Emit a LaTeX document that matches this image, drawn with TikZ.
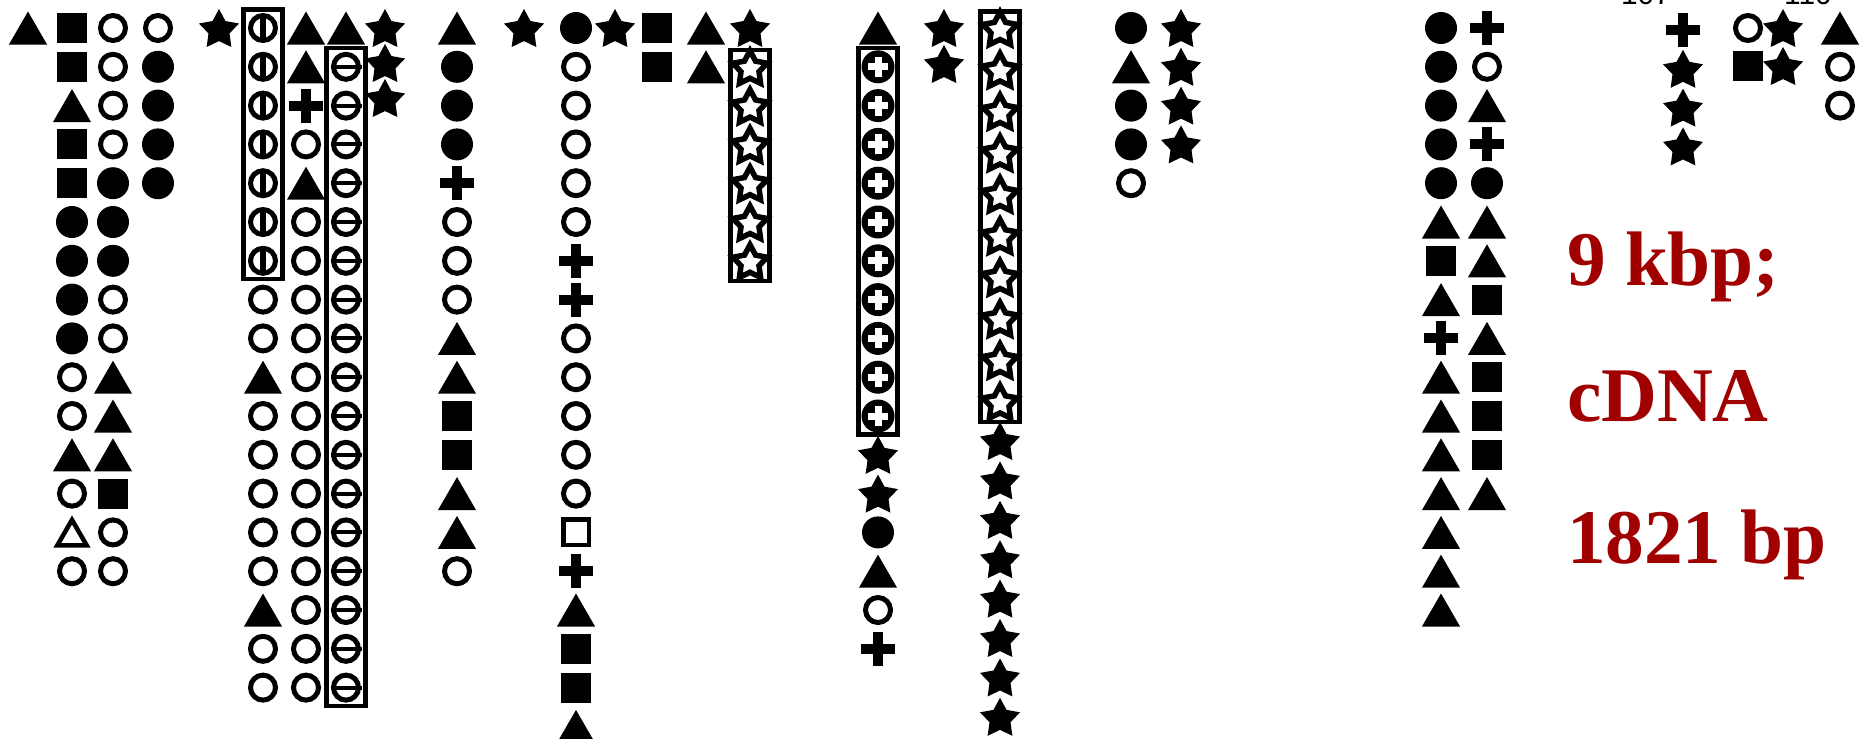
\documentclass[tikz,border=0pt]{standalone}
\usepackage{fontspec}
\setmainfont{Liberation Serif}
\setsansfont{Liberation Sans}
\usepackage{tikz}
\usetikzlibrary{fit}
\usetikzlibrary{shapes.geometric}
\usetikzlibrary{shapes.misc}

\definecolor{lenRed}{RGB}{160,0,0}
\def\rowstep{38.8}

\begin{document}
\begin{tikzpicture}[
  x=0.02cm, y=-0.02cm,
  every node/.style={inner sep=0pt, outer sep=0pt},
  % filled / open symbols
  cF/.style={circle, fill=black, minimum size=0.64cm},
  cO/.style={circle, draw=black, line width=0.1cm, minimum size=0.5cm},
  sF/.style={rectangle, fill=black, minimum size=0.6cm},
  sO/.style={rectangle, draw=black, line width=0.09cm, minimum size=0.51cm},
  tF/.style={regular polygon, regular polygon sides=3, fill=black, minimum size=0.88cm, yshift=-0.11cm},
  tO/.style={regular polygon, regular polygon sides=3, draw=black, line width=0.09cm, minimum size=0.68cm, yshift=-0.09cm},
  stF/.style={star, star points=5, star point ratio=1.9, fill=black, minimum size=0.84cm, yshift=-0.04cm},
  stO/.style={star, star points=5, star point ratio=1.9, draw=black, fill=white, line width=0.11cm, minimum size=0.72cm, yshift=-0.04cm},
  pl/.style={cross out, draw=black, line width=0.2cm, minimum size=0.48cm, rotate=45},
  cV/.style={cO, path picture={\draw[line width=0.12cm] (path picture bounding box.north) -- (path picture bounding box.south);}},
  cH/.style={cO},
  cP/.style={circle, fill=black, minimum size=0.66cm,
    path picture={\draw[white, line width=0.14cm] ([xshift=-0.2cm]path picture bounding box.center) -- ([xshift=0.2cm]path picture bounding box.center);
      \draw[white, line width=0.14cm] ([yshift=-0.2cm]path picture bounding box.center) -- ([yshift=0.2cm]path picture bounding box.center);}},
  redLab/.style={font=\bfseries\fontsize{44}{50}\selectfont, text=lenRed},
  topLab/.style={font=\sffamily\fontsize{17}{20}\selectfont},
]

\tikzset{
  boxRun/.style 2 args={
    draw=black, line width=0.085cm,
    rectangle,
    fit={(#1.center) (#2.center)},
    inner xsep=0.39cm, inner ysep=0.37cm
  }
}

\useasboundingbox (0,0) rectangle (1859,738);

% --- first group ---
\node[tF] (a-1) at (28,28) {};
\foreach \s [count=\r] in {sF,sF,tF,sF,sF,cF,cF,cF,cF,cO,cO,tF,cO,tO,cO}
  \node[\s] (b-\r) at (72,{28+\rowstep*(\r-1)}) {};
\foreach \s [count=\r] in {cO,cO,cO,cO,cF,cF,cF,cO,cO,tF,tF,tF,sF,cO,cO}
  \node[\s] (c-\r) at (113,{28+\rowstep*(\r-1)}) {};
\foreach \s [count=\r] in {cO,cF,cF,cF,cF}
  \node[\s] (d-\r) at (158,{28+\rowstep*(\r-1)}) {};

% --- second group ---
\node[stF] (st-1) at (219,28) {};
\foreach \s [count=\r] in {cV,cV,cV,cV,cV,cV,cV,cO,cO,tF,cO,cO,cO,cO,cO,tF,cO,cO}
  \node[\s] (e-\r) at (263,{28+\rowstep*(\r-1)}) {};
\foreach \s [count=\r] in {tF,tF,pl,cO,tF,cO,cO,cO,cO,cO,cO,cO,cO,cO,cO,cO,cO,cO}
  \node[\s] (f-\r) at (306,{28+\rowstep*(\r-1)}) {};
\foreach \s [count=\r] in {tF,cH,cH,cH,cH,cH,cH,cH,cH,cH,cH,cH,cH,cH,cH,cH,cH,cH}
  \node[\s] (g-\r) at (346,{28+\rowstep*(\r-1)}) {};
\foreach \r in {2,...,18}
  \draw[line width=0.08cm] ([xshift=-0.06cm]g-\r.west) -- ([xshift=0.06cm]g-\r.east);
\foreach \r in {1,2,3}
  \node[stF] (h-\r) at (385,{28+35*(\r-1)}) {};

% --- third group ---
\foreach \s [count=\r] in {tF,cF,cF,cF,pl,cO,cO,cO,tF,tF,sF,sF,tF,tF,cO}
  \node[\s] (i-\r) at (457,{28+\rowstep*(\r-1)}) {};
\node[stF] (j-1) at (524,28) {};
\foreach \s [count=\r] in {cF,cO,cO,cO,cO,cO,pl,pl,cO,cO,cO,cO,cO,sO,pl,tF,sF,sF,tF}
  \node[\s] (k-\r) at (576,{28+\rowstep*(\r-1)}) {};
\node[stF] (l-1) at (615,28) {};
\node[sF] (m-1) at (657,28) {};
\node[sF] (m-2) at (657,{28+\rowstep}) {};
\node[tF] (n-1) at (706,28) {};
\node[tF] (n-2) at (706,{28+\rowstep}) {};
\foreach \s [count=\r] in {stF,stO,stO,stO,stO,stO,stO}
  \node[\s] (o-\r) at (750,{28+\rowstep*(\r-1)}) {};

% --- fourth group ---
\foreach \s [count=\r] in {tF,cP,cP,cP,cP,cP,cP,cP,cP,cP,cP,stF,stF,cF,tF,cO,pl}
  \node[\s] (p-\r) at (878,{28+\rowstep*(\r-1)}) {};
\node[stF] (q-1) at (944,28) {};
\node[stF] (q-2) at (944,64) {};
\foreach \r in {1,...,10}
  \node[stO] (r-\r) at (1000,{28+41.5*(\r-1)}) {};
\foreach \r in {11,...,18}
  \node[stF] (r-\r) at (1000,{441+39.4*(\r-11)}) {};

% --- fifth group ---
\foreach \s [count=\r] in {cF,tF,cF,cF,cO}
  \node[\s] (s-\r) at (1131,{28+\rowstep*(\r-1)}) {};
\foreach \r in {1,...,4}
  \node[stF] (t-\r) at (1181,{28+\rowstep*(\r-1)}) {};

% --- sixth group ---
\foreach \s [count=\r] in {cF,cF,cF,cF,cF,tF,sF,tF,pl,tF,tF,tF,tF,tF,tF,tF}
  \node[\s] (u-\r) at (1441,{28+\rowstep*(\r-1)}) {};
\foreach \s [count=\r] in {pl,cO,tF,pl,cF,tF,tF,sF,tF,sF,sF,sF,tF}
  \node[\s] (v-\r) at (1487,{28+\rowstep*(\r-1)}) {};

% --- last group (cut at the top) ---
\node[topLab, anchor=base] (n107) at (1646,4) {107};
\node[topLab, anchor=base] (n110) at (1808,4) {110};
\foreach \s [count=\r] in {pl,stF,stF,stF}
  \node[\s] (w-\r) at (1683,{30+\rowstep*(\r-1)}) {};
\node[cO] (x-1) at (1748,28) {};
\node[sF] (x-2) at (1748,66) {};
\node[stF] (y-1) at (1783,28) {};
\node[stF] (y-2) at (1783,66) {};
\foreach \s [count=\r] in {tF,cO,cO}
  \node[\s] (z-\r) at (1840,{28+\rowstep*(\r-1)}) {};

% boxed runs
\node[boxRun={e-1}{e-7}] (boxE) {};
\node[boxRun={g-2}{g-18}] (boxG) {};
\node[boxRun={o-2}{o-7}] (boxO) {};
\node[boxRun={p-2}{p-11}] (boxP) {};
\node[boxRun={r-1}{r-10}] (boxR) {};

% lengths
\node[redLab, anchor=base west] (kbp) at (1567,285) {9 kbp;};
\node[redLab, anchor=base west] (cdna) at (1567,421) {cDNA};
\node[redLab, anchor=base west] (cbp) at (1567,563) {1821 bp};

\end{tikzpicture}
\end{document}
